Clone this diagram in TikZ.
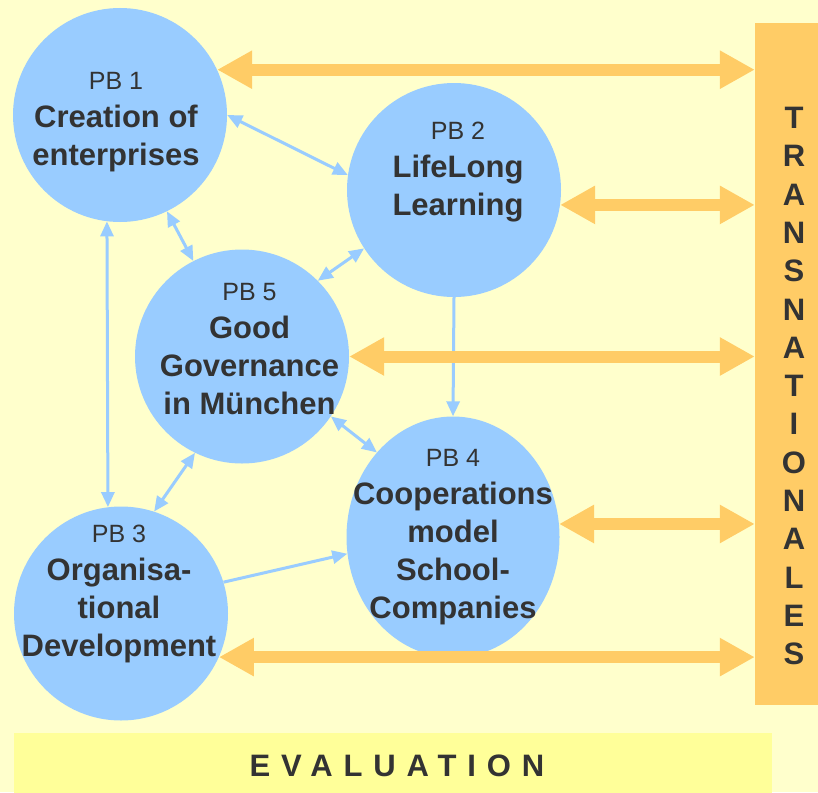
\documentclass[tikz,border=0pt]{standalone}
\usepackage{fontspec}
\setmainfont{Liberation Sans}
\usetikzlibrary{arrows.meta,shapes.geometric}

\definecolor{fondo}{HTML}{FFFFCC}
\definecolor{azul}{HTML}{99CCFF}
\definecolor{naranja}{HTML}{FFCC66}
\definecolor{amarillo}{HTML}{FFFF99}
\definecolor{gris}{HTML}{333333}

\begin{document}
\begin{tikzpicture}[x=1pt,y=-1pt]

	%DEFINICIONES
	\tikzstyle{every node}=[text=gris]
	\tikzstyle{pb} = [circle, fill=azul, inner sep=0pt, minimum size=214pt]
	\tikzstyle{texto} = [align=center, inner sep=0pt, anchor=north, font=\fontsize{31}{38}\selectfont\bfseries]
	\tikzstyle{barra} = [rectangle, inner sep=0pt]
	\tikzstyle{flecha} = [{Triangle[length=15pt,width=13pt]}-{Triangle[length=15pt,width=13pt]}, line width=3pt, draw=azul]
	\tikzstyle{flechauna} = [-{Triangle[length=15pt,width=13pt]}, line width=3pt, draw=azul]
	\tikzstyle{gruesa} = [{Triangle[length=35pt,width=36pt]}-{Triangle[length=35pt,width=36pt]}, line width=12pt, draw=naranja]
	\newcommand{\pbn}[1]{{\mdseries\fontsize{25}{38}\selectfont PB #1}}

	\clip (0,0) rectangle (818,792);
	\fill[fondo] (0,0) rectangle (818,792);

	%BARRAS
	\draw(792.5,364) node[barra, fill=naranja, minimum width=75pt, minimum height=682pt](6){};	%TRANSNATIONALES
	\draw(794,107) node[texto, font=\fontsize{31}{38.3}\selectfont\bfseries](6t){T\\R\\A\\N\\S\\N\\A\\T\\I\\O\\N\\A\\L\\E\\S};
	\draw(393,770) node[barra, fill=amarillo, minimum width=758pt, minimum height=74pt](7){};	%EVALUATION
	\draw(397,755) node[texto, font=\fontsize{31}{38}\selectfont\bfseries\addfontfeature{LetterSpace=35}](7t){EVALUATION};

	%CIRCULOS
	\draw(120,115) node[pb](1){};
	\draw(454,190) node[pb](2){};
	\draw(121,613.5) node[pb](3){};
	\draw(453,537) node[pb, ellipse, minimum width=213pt, minimum height=241pt](4){};
	\draw(242,356.5) node[pb](5){};

	\draw(116,72) node[texto](1t){\pbn{1}\\Creation of\\enterprises};
	\draw(458,122) node[texto](2t){\pbn{2}\\LifeLong\\Learning};
	\draw(119,525) node[texto](3t){\pbn{3}\\Organisa-\\tional\\Development};
	\draw(453,449) node[texto](4t){\pbn{4}\\Cooperations\\model\\School-\\Companies};
	\draw(249.5,283) node[texto](5t){\pbn{5}\\Good\\Governance\\in München};

	%FLECHAS
	\draw [flecha] (1.east) -- (2.172);
	\draw [flecha] (1.-64) -- (5.117);
	\draw [flecha] (1.-97) -- (3.97);
	\draw [flecha] (2.-147) -- (5.45);
	\draw [flechauna] (2.south) -- (4.north);
	\draw [flecha] (5.-34) -- (4.132);
	\draw [flecha] (5.-116) -- (3.72);
	\draw [flechauna] (3.17) -- (4.-171);

	\draw [gruesa] (1.25) -- (1.25 -| 6.west);
	\draw [gruesa] (2.-8) -- (2.-8 -| 6.west);
	\draw [gruesa] (5.east) -- (5.east -| 6.west);
	\draw [gruesa] (4.7) -- (4.7 -| 6.west);
	\draw [gruesa] (3.-24) -- (3.-24 -| 6.west);
\end{tikzpicture}
\end{document}
